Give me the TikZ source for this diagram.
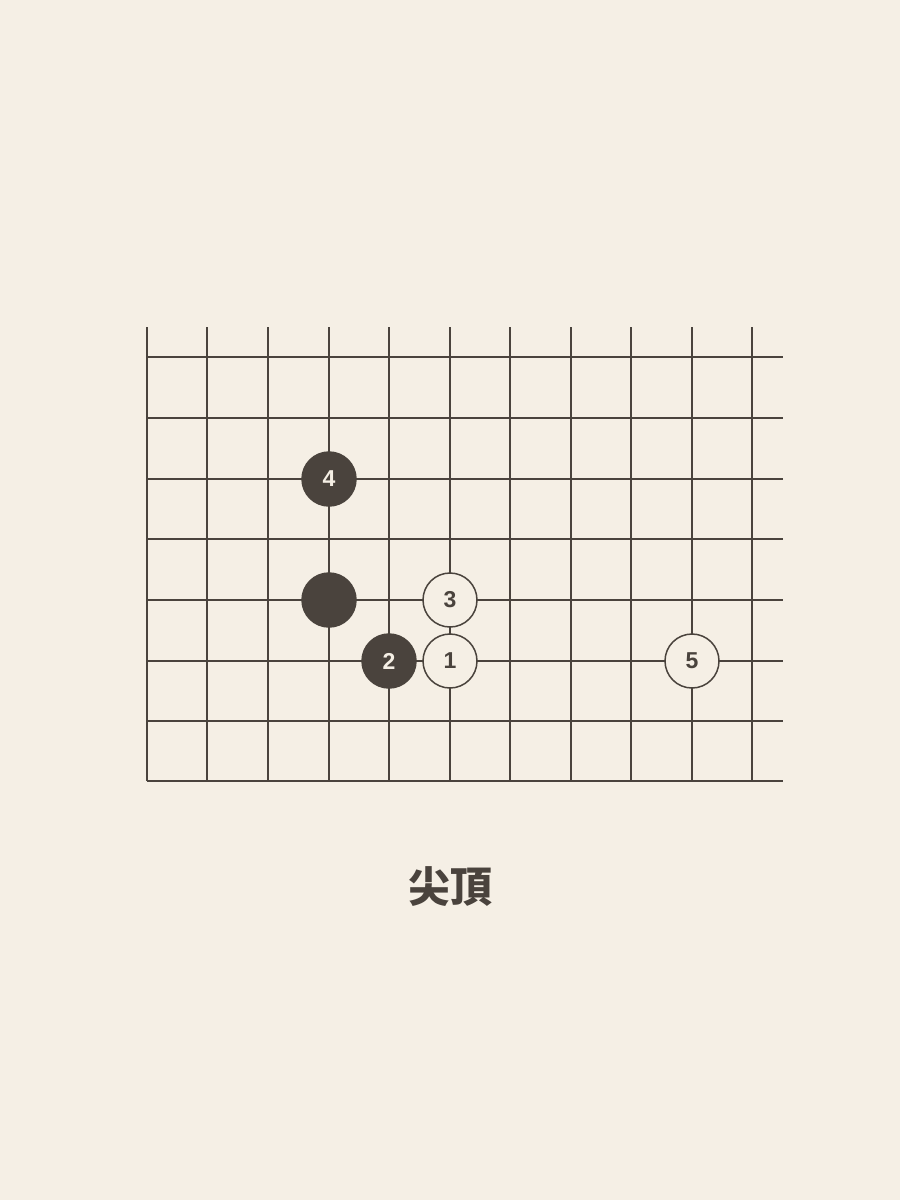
\documentclass[tikz,border=0pt]{standalone}
\usepackage{fontspec}
\setsansfont{Liberation Sans}
\newfontfamily\cjk{Noto Sans CJK TC}
\definecolor{bg}{HTML}{F5EFE5}
\definecolor{ink}{HTML}{4A433D}
\tikzset{
  blackstone/.style={circle,fill=ink,draw=ink,line width=1.5pt,minimum size=54pt,inner sep=0pt,text=bg,font=\sffamily\bfseries\fontsize{23}{23}\selectfont},
  whitestone/.style={circle,fill=bg,draw=ink,line width=1.5pt,minimum size=54pt,inner sep=0pt,text=ink,font=\sffamily\bfseries\fontsize{23}{23}\selectfont},
  boardline/.style={ink,line width=1.8pt}
}
\begin{document}
\begin{tikzpicture}[x=1pt,y=-1pt]
\fill[bg] (0,0) rectangle (900,1200);
\useasboundingbox (0,0) rectangle (900,1200);

% board lines
\foreach \x in {147,207,268,329,389,450,510,571,631,692,752}
  \draw[boardline] (\x,327)--(\x,781);
\foreach \y in {357,418,479,539,600,661,721,781}
  \draw[boardline] (147,\y)--(783,\y);

% stones
\node (b4) at (329,479)[blackstone]{4};
\node (b0) at (329,600)[blackstone]{};
\node (b2) at (389,661)[blackstone]{2};
\node (w3) at (450,600)[whitestone]{3};
\node (w1) at (450,661)[whitestone]{1};
\node (w5) at (692,661)[whitestone]{5};

\node (title) at (450,887)[text=ink,font=\cjk\bfseries\fontsize{42}{42}\selectfont]{尖頂};
\end{tikzpicture}
\end{document}
